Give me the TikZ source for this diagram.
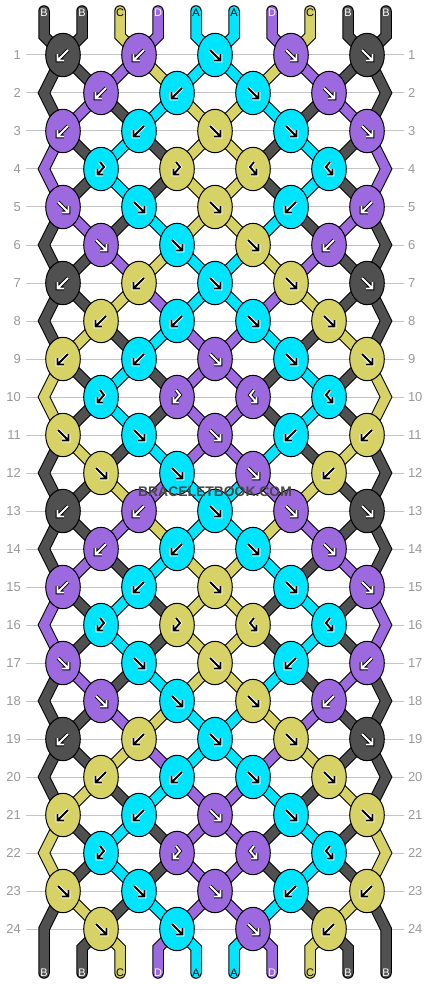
\documentclass[tikz,border=0pt]{standalone}
\usepackage{fontspec}
\setmainfont{Liberation Sans}
\usetikzlibrary{shapes.geometric}
\pgfdeclarelayer{rowlines}
\pgfdeclarelayer{strands}
\pgfsetlayers{rowlines,strands,main}
\definecolor{c0}{HTML}{505050}
\definecolor{c1}{HTML}{D6D266}
\definecolor{c2}{HTML}{9C6ADE}
\definecolor{c3}{HTML}{00E5FF}
\definecolor{gridgray}{HTML}{C4C4C4}
\definecolor{numgray}{HTML}{999999}
\definecolor{wmark}{HTML}{484848}
\colorlet{afg}{white}
\colorlet{abg}{black}
\newcommand\strand[2]{\draw[strandout] #2;\draw[strandin,draw=c#1] #2;}
\def\Sarr{{0,0,1,2,3,3,2,1,0,0,0,0,2,1,3,3,1,2,0,0,0,2,0,3,1,1,3,0,2,0,2,0,3,0,1,1,0,3,0,2,2,0,3,0,1,1,0,3,0,2,0,2,0,3,1,1,3,0,2,0,0,0,2,1,3,3,1,2,0,0,0,0,1,2,3,3,2,1,0,0,0,1,0,3,2,2,3,0,1,0,1,0,3,0,2,2,0,3,0,1,1,0,3,0,2,2,0,3,0,1,0,1,0,3,2,2,3,0,1,0}}
\tikzset{
 knot/.style={ellipse, draw=black, line width=1pt, minimum width=34.6pt, minimum height=43.4pt, inner sep=0pt, outer sep=0pt},
 strandout/.style={draw=black, line width=11.5pt, line cap=round, line join=miter},
 strandin/.style={line width=9.5pt, line cap=round, line join=miter},
 arr/.style={draw=abg, line width=3.6pt, line cap=butt, line join=miter, postaction={draw=afg, line width=1.9pt}},
 arrL/.pic={\draw[arr] (5,-5) -- (-5.3,5.3) (-5.5,-0.8) -- (-5.5,5.5) -- (0.8,5.5);},
 arrR/.pic={\draw[arr] (-5,-5) -- (5.3,5.3) (5.5,-0.8) -- (5.5,5.5) -- (-0.8,5.5);},
 arrH/.pic={\draw[arr] (-1,-7) -- (3,-2) -- (-3.2,5.2) (-3.5,0) -- (-3.5,5.5) -- (2,5.5);},
 arrK/.pic={\draw[arr] (1,-7) -- (-3,-2) -- (3.2,5.2) (3.5,0) -- (3.5,5.5) -- (-2,5.5);},
 rownum/.style={text=numgray, font=\fontsize{13}{13}\selectfont, inner sep=0pt},
 slabel/.style={font=\fontsize{11}{11}\selectfont, inner sep=0pt},
}
\begin{document}
\begin{tikzpicture}[x=1pt,y=-1pt]
\useasboundingbox (0,0) rectangle (430,984);
\begin{pgfonlayer}{rowlines}
\fill[white] (0,0) rectangle (430,984);
\foreach \RR in {1,...,24}{
  \coordinate (gl-\RR) at (26,{17+38*\RR});
  \coordinate (gr-\RR) at (404,{17+38*\RR});
  \draw[gridgray, line width=1pt] (gl-\RR) -- (gr-\RR);
}
\end{pgfonlayer}
% coordinates for string ends and edge bends
\foreach \pp in {0,...,9}{
  \coordinate (t-\pp) at ({44+38*\pp},11);
  \coordinate (tb-\pp) at ({44+38*\pp},36);
  \coordinate (bb-\pp) at ({44+38*\pp},948);
  \coordinate (be-\pp) at ({44+38*\pp},973);
}
\foreach \RR in {2,4,...,24}{
  \coordinate (eL-\RR) at (44,{17+38*\RR});
  \coordinate (eR-\RR) at (386,{17+38*\RR});
}
% knots
\foreach \hh in {0,1}{
 \foreach \rr/\lst in {
   1/{0/L,2/L,3/R,2/R,0/R},
   2/{2/L,3/L,3/R,2/R},
   3/{2/L,3/L,1/R,3/R,2/R},
   4/{3/H,1/H,1/K,3/K},
   5/{2/R,3/R,1/R,3/L,2/L},
   6/{2/R,3/R,1/R,2/L},
   7/{0/L,1/L,3/R,1/R,0/R},
   8/{1/L,3/L,3/R,1/R},
   9/{1/L,3/L,2/R,3/R,1/R},
   10/{3/H,2/H,2/K,3/K},
   11/{1/R,3/R,2/R,3/L,1/L},
   12/{1/R,3/R,2/R,1/L}}{
  \pgfmathtruncatemacro\RR{\rr+12*\hh}
  \foreach \kc/\kt [count=\kk from 0] in \lst {
    \pgfmathtruncatemacro\qq{2*\kk+1-mod(\RR,2)}
    \node[knot, fill=c\kc] (k-\RR-\qq) at ({63+38*\qq},{17+38*\RR}) {};
    \ifodd\kc\relax \colorlet{afg}{black}\colorlet{abg}{white}\else\colorlet{afg}{white}\colorlet{abg}{black}\fi
    \pic at (k-\RR-\qq.center) {arr\kt};
  }
 }
}
% strings
\begin{pgfonlayer}{strands}
\foreach \pp in {0,...,9}{
  \pgfmathtruncatemacro\cc{\Sarr[\pp]}
  \pgfmathtruncatemacro\qq{\pp-1+mod(\pp+1,2)}
  \strand{\cc}{(t-\pp) -- (tb-\pp) -- (k-1-\qq.center)}
}
\foreach \RR in {2,...,24}{
  \pgfmathtruncatemacro\Rp{\RR-1}
  \pgfmathtruncatemacro\ss{mod(\Rp,12)}
  \foreach \pp in {1,...,8}{
    \pgfmathtruncatemacro\cc{\Sarr[10*\ss+\pp]}
    \pgfmathtruncatemacro\qa{\pp-1+mod(\pp+\Rp,2)}
    \pgfmathtruncatemacro\qb{\pp-1+mod(\pp+\RR,2)}
    \strand{\cc}{(k-\Rp-\qa.center) -- (k-\RR-\qb.center)}
  }
}
\foreach \RR in {2,4,...,22}{
  \pgfmathtruncatemacro\Rp{\RR-1}
  \pgfmathtruncatemacro\Rn{\RR+1}
  \pgfmathtruncatemacro\ss{mod(\Rp,12)}
  \pgfmathtruncatemacro\cl{\Sarr[10*\ss]}
  \pgfmathtruncatemacro\cr{\Sarr[10*\ss+9]}
  \strand{\cl}{(k-\Rp-0.center) -- (eL-\RR) -- (k-\Rn-0.center)}
  \strand{\cr}{(k-\Rp-8.center) -- (eR-\RR) -- (k-\Rn-8.center)}
}
\strand{0}{(k-23-0.center) -- (eL-24) -- (be-0)}
\strand{0}{(k-23-8.center) -- (eR-24) -- (be-9)}
\foreach \pp in {1,...,8}{
  \pgfmathtruncatemacro\cc{\Sarr[\pp]}
  \pgfmathtruncatemacro\qq{\pp-1+mod(\pp,2)}
  \strand{\cc}{(k-24-\qq.center) -- (bb-\pp) -- (be-\pp)}
}
\end{pgfonlayer}
% row numbers
\foreach \RR in {1,...,24}{
  \node[rownum, anchor=base east] (nl-\RR) at (21,{21.4+38*\RR}) {\RR};
  \node[rownum, anchor=base west] (nr-\RR) at (407.8,{21.4+38*\RR}) {\RR};
}
% string labels
\foreach \pp/\lab/\tc in {0/B/white,1/B/white,2/C/black,3/D/white,4/A/black,5/A/black,6/D/white,7/C/black,8/B/white,9/B/white}{
  \node[slabel, text=\tc, anchor=base] (lt-\pp) at ({44+38*\pp},16.8) {\lab};
  \node[slabel, text=\tc, anchor=base] (lb-\pp) at ({44+38*\pp},976.6) {\lab};
}
\node[font=\bfseries\fontsize{13.9}{14}\selectfont, text=wmark, anchor=base, inner sep=0pt] (wm) at (215,496.6) {BRACELETBOOK.COM};
\end{tikzpicture}
\end{document}
